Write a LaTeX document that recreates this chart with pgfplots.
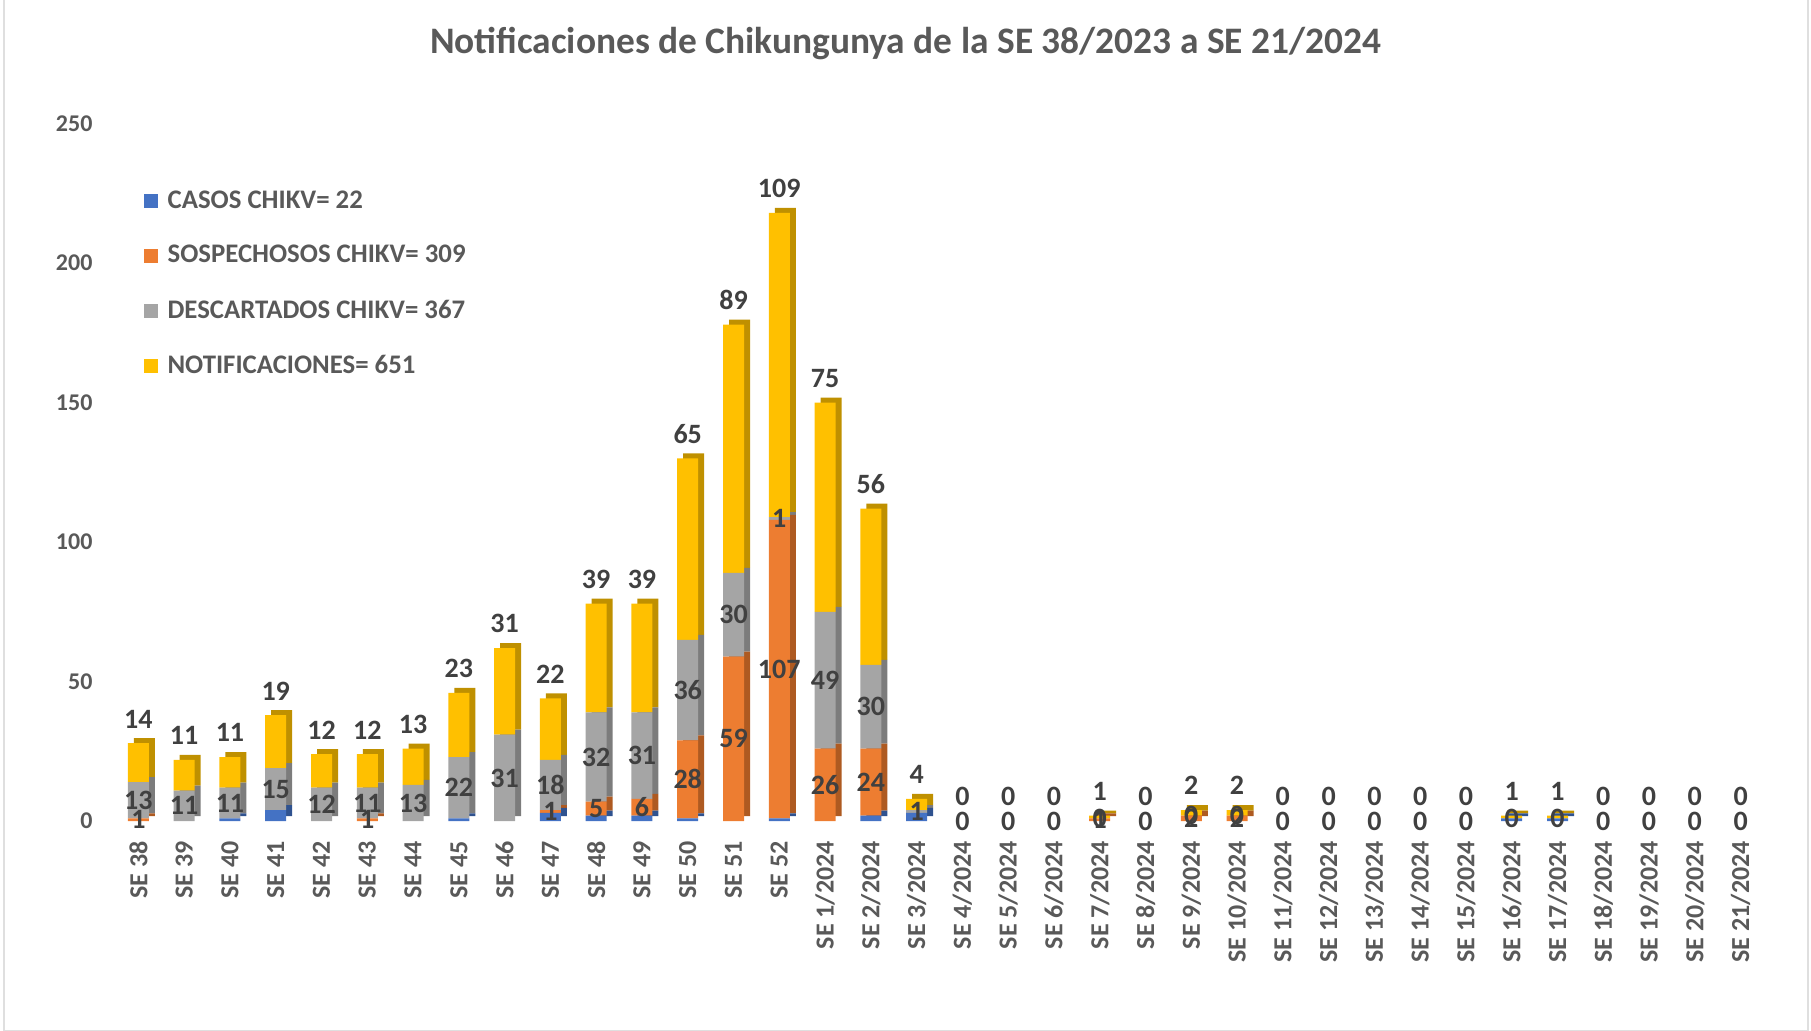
\documentclass[border=0pt]{standalone}
\usepackage{pgfplots}
\pgfplotsset{compat=1.18}
\usepackage{pgfplotstable}
\usepackage{fontspec}
\setmainfont{Carlito}

\definecolor{cblue}{HTML}{4472C4}
\definecolor{corange}{HTML}{ED7D31}
\definecolor{cgray}{HTML}{A5A5A5}
\definecolor{cyellow}{HTML}{FFC000}
\definecolor{cblueD}{HTML}{2F528F}
\definecolor{corangeD}{HTML}{AE5A21}
\definecolor{cgrayD}{HTML}{7C7C7C}
\definecolor{cyellowD}{HTML}{BF9000}
\definecolor{tickc}{HTML}{595959}
\definecolor{labc}{HTML}{404040}

% semana, casos, sospechosos, descartados, notificaciones, etiquetas visibles
\pgfplotstableread[col sep=comma]{
idx,lab,cas,sos,des,notif,sosL,desL
0,SE 38,0,1,13,14,1,13
1,SE 39,0,0,11,11,,11
2,SE 40,1,0,11,11,,11
3,SE 41,4,0,15,19,,15
4,SE 42,0,0,12,12,,12
5,SE 43,0,1,11,12,1,11
6,SE 44,0,0,13,13,,13
7,SE 45,1,0,22,23,,22
8,SE 46,0,0,31,31,,31
9,SE 47,3,1,18,22,1,18
10,SE 48,2,5,32,39,5,32
11,SE 49,2,6,31,39,6,31
12,SE 50,1,28,36,65,28,36
13,SE 51,0,59,30,89,59,30
14,SE 52,1,107,1,109,107,1
15,SE 1/2024,0,26,49,75,26,49
16,SE 2/2024,2,24,30,56,24,30
17,SE 3/2024,3,0,1,4,,1
18,SE 4/2024,0,0,0,0,,0
19,SE 5/2024,0,0,0,0,,0
20,SE 6/2024,0,0,0,0,,0
21,SE 7/2024,0,1,0,1,1,0
22,SE 8/2024,0,0,0,0,,0
23,SE 9/2024,0,2,0,2,2,0
24,SE 10/2024,0,2,0,2,2,0
25,SE 11/2024,0,0,0,0,,0
26,SE 12/2024,0,0,0,0,,0
27,SE 13/2024,0,0,0,0,,0
28,SE 14/2024,0,0,0,0,,0
29,SE 15/2024,0,0,0,0,,0
30,SE 16/2024,1,0,0,1,,0
31,SE 17/2024,1,0,0,1,,0
32,SE 18/2024,0,0,0,0,,0
33,SE 19/2024,0,0,0,0,,0
34,SE 20/2024,0,0,0,0,,0
35,SE 21/2024,0,0,0,0,,0
}\data

\pgfplotsset{
  base/.style={
    scale only axis, width=824pt, height=348.8pt,
    xmin=-0.5, xmax=35.5, ymin=0, ymax=250,
    bar width=10.5pt, anchor=south west,
  },
  lbl/.style={
    draw=none, mark=none, nodes near coords, point meta=explicit symbolic,
    every node near coord/.append style={anchor=center, text=labc,
      font=\bfseries\fontsize{14}{16}\selectfont},
  },
}

\begin{document}
\begin{tikzpicture}
\path[use as bounding box] (-57.75pt,-104.4pt) rectangle (847.75pt,410.6pt);
\draw[gray!25, line width=1pt] (-55.5pt,-105pt) rectangle (846pt,411pt);

% caras laterales (efecto 3D)
\begin{axis}[base, at={(3pt,2.5pt)}, hide axis, ybar stacked]
\addplot[fill=cblueD, draw=none] table[x=idx, y=cas]{\data};
\addplot[fill=corangeD, draw=none] table[x=idx, y=sos]{\data};
\addplot[fill=cgrayD, draw=none] table[x=idx, y=des]{\data};
\addplot[fill=cyellowD, draw=none] table[x=idx, y=notif]{\data};
\end{axis}

\begin{axis}[base, at={(0pt,0pt)}, ybar stacked,
  axis line style={draw=none}, major tick length=0pt,
  ytick={0,50,...,250},
  xtick={0,...,35}, xticklabels from table={\data}{lab},
  /pgf/number format/assume math mode=true,
  yticklabel style={font=\bfseries\fontsize{12}{14}\selectfont, text=tickc},
  xticklabel style={rotate=90, anchor=east, font=\bfseries\fontsize{13}{15}\selectfont, text=tickc},
  yticklabel shift=8pt, xticklabel shift=6.5pt,
  legend style={at={(0.0168,0.91)}, anchor=north west, draw=none, fill=none,
    inner sep=0pt, row sep=13pt, font=\bfseries\fontsize{13.4}{15}\selectfont, text=tickc,
    nodes={inner xsep=5pt}},
  legend cell align=left,
  legend image code/.code={\fill[#1] (0pt,-3.5pt) rectangle (7pt,3.5pt);},
]
\addplot[fill=cblue, draw=none] table[x=idx, y=cas]{\data};
\addplot[fill=corange, draw=none] table[x=idx, y=sos]{\data};
\addplot[fill=cgray, draw=none] table[x=idx, y=des]{\data};
\addplot[fill=cyellow, draw=none] table[x=idx, y=notif]{\data};
\legend{CASOS CHIKV= 22, SOSPECHOSOS CHIKV= 309, DESCARTADOS CHIKV= 367, NOTIFICACIONES= 651}
\end{axis}

% etiquetas de datos
\begin{axis}[base, at={(0pt,0pt)}, hide axis, clip=false]
\addplot[lbl] table[x=idx, y expr=\thisrow{cas}+0.5*\thisrow{sos}, meta=sosL]{\data};
\addplot[lbl] table[x=idx, y expr=\thisrow{cas}+\thisrow{sos}+0.5*\thisrow{des}, meta=desL]{\data};
\addplot[lbl, every node near coord/.append style={anchor=south, yshift=4pt}]
  table[x=idx, y expr=\thisrow{cas}+\thisrow{sos}+\thisrow{des}+\thisrow{notif}, meta=notif]{\data};
\end{axis}

\node[font=\bfseries\fontsize{18.7}{22}\selectfont, text=tickc] at (395pt,388.6pt)
  {Notificaciones de Chikungunya de la SE 38/2023 a SE 21/2024};
\end{tikzpicture}
\end{document}
